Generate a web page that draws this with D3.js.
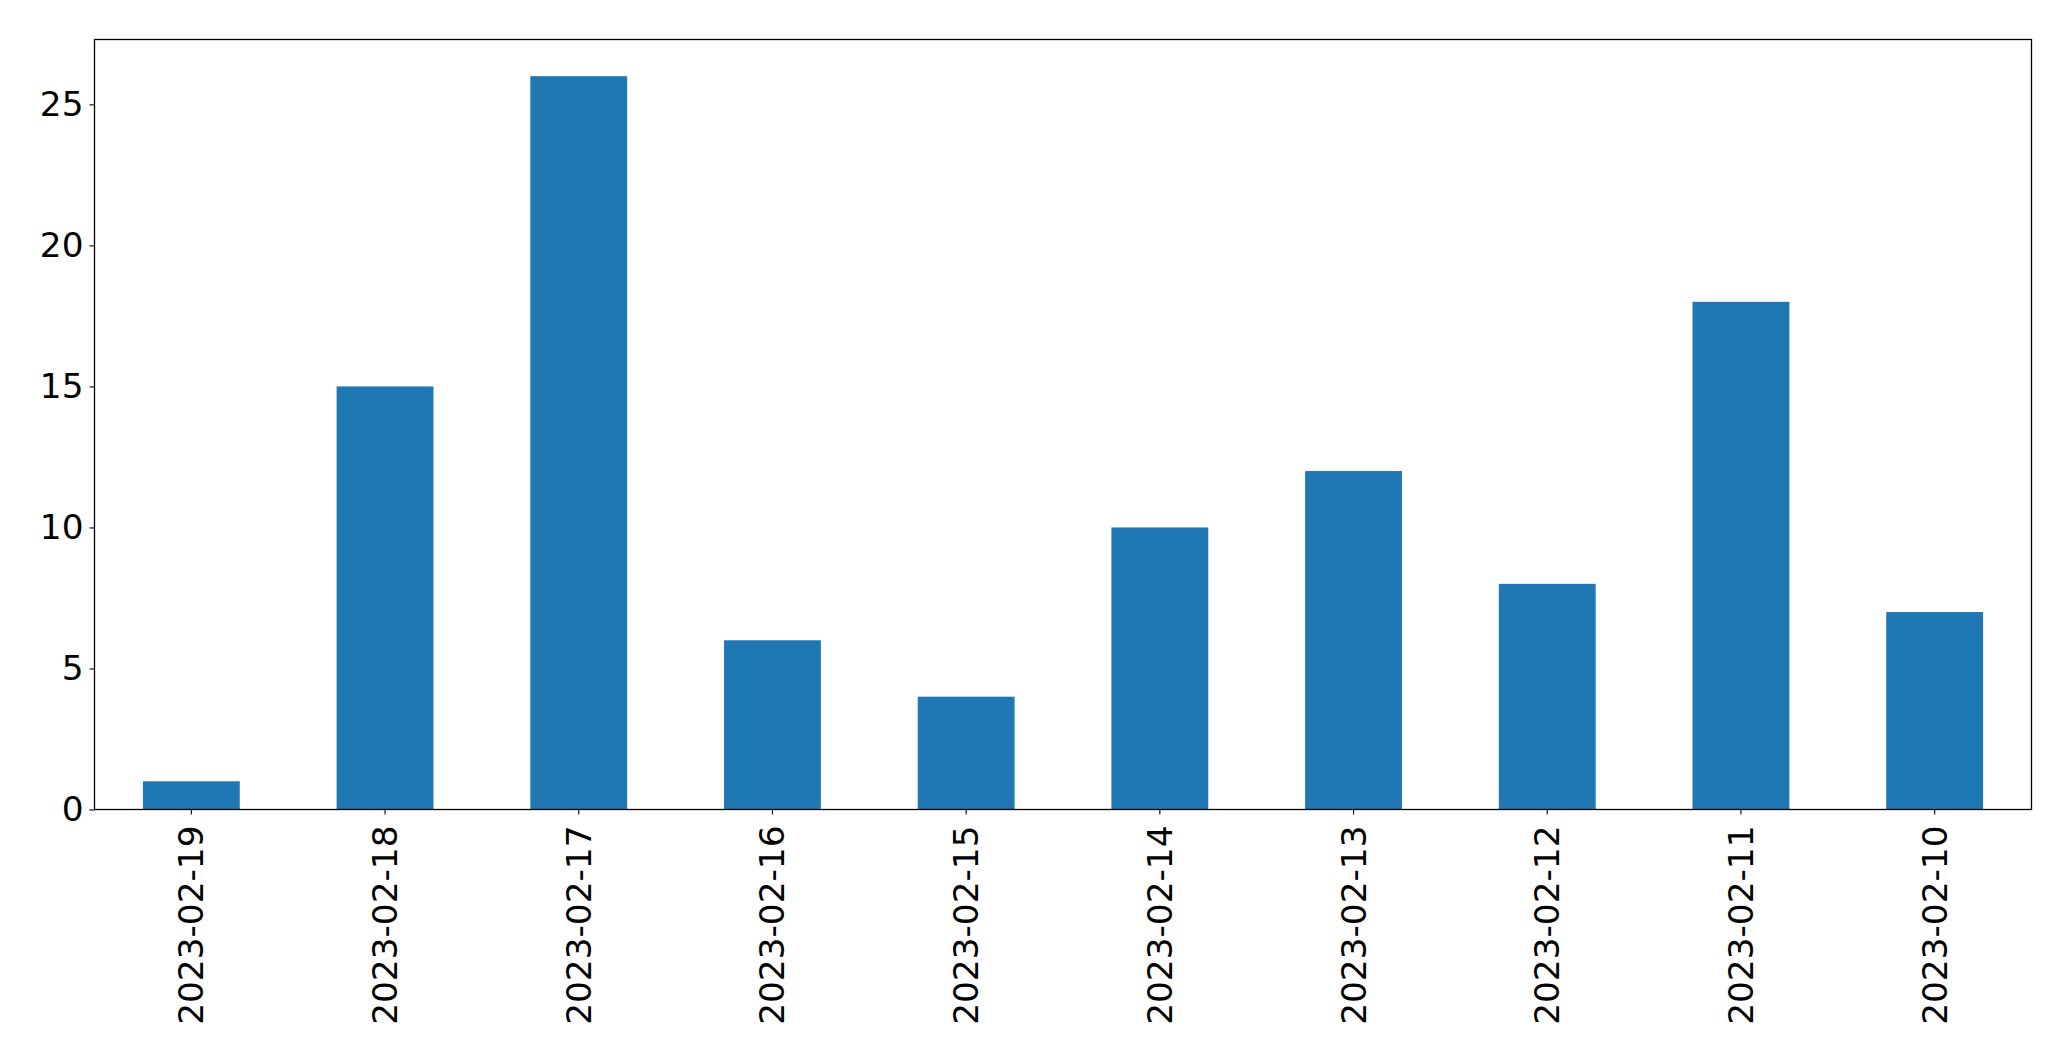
<!DOCTYPE html>
<html>
<head>
<meta charset="utf-8">
<script src="https://cdn.jsdelivr.net/npm/d3@7"></script>
<style>
  html, body { margin: 0; padding: 0; background: #fff; }
  text { font-family: "DejaVu Sans", sans-serif; }
</style>
</head>
<body>
<svg id="chart" width="2071" height="1061"></svg>
<script>
const categories = ["2023-02-19","2023-02-18","2023-02-17","2023-02-16","2023-02-15","2023-02-14","2023-02-13","2023-02-12","2023-02-11","2023-02-10"];
const values = [1, 15, 26, 6, 4, 10, 12, 8, 18, 7];
const yTicks = [0, 5, 10, 15, 20, 25];

const W = 2071, H = 1061;
const m = {left: 94.5, right: W - 2031.5, top: 39.5, bottom: H - 809.5};
const svg = d3.select("#chart");
const innerW = W - m.left - m.right, innerH = H - m.top - m.bottom;

const x = d3.scaleBand().domain(categories).range([m.left, m.left + innerW]).paddingInner(0.5).paddingOuter(0.25);
const y = d3.scaleLinear().domain([0, d3.max(values) * 1.05]).range([m.top + innerH, m.top]);

svg.append("g").selectAll("rect").data(values).join("rect")
  .attr("x", (d, i) => x(categories[i]))
  .attr("width", x.bandwidth())
  .attr("y", d => y(d))
  .attr("height", d => y(0) - y(d))
  .attr("fill", "#1f77b4");

const fs = 34.3;
const yAxis = svg.append("g").attr("transform", `translate(${m.left},0)`)
  .call(d3.axisLeft(y).tickValues(yTicks).tickSize(5).tickPadding(6).tickFormat(d3.format("d")));
yAxis.select(".domain").remove();
yAxis.selectAll("text").attr("font-size", fs).attr("fill", "#000").attr("font-family", "DejaVu Sans");
yAxis.selectAll("line").attr("stroke", "#000").attr("stroke-width", 1.1);

const xAxis = svg.append("g").attr("transform", `translate(0,${m.top + innerH})`)
  .call(d3.axisBottom(x).tickSize(5).tickPadding(0));
xAxis.select(".domain").remove();
xAxis.selectAll("line").attr("stroke", "#000").attr("stroke-width", 1.1);
xAxis.selectAll("text")
  .attr("font-size", fs).attr("fill", "#000").attr("font-family", "DejaVu Sans")
  .attr("transform", "rotate(-90)")
  .attr("text-anchor", "end")
  .attr("x", -16).attr("y", 0).attr("dy", "0.35em");

svg.append("rect")
  .attr("x", m.left).attr("y", m.top).attr("width", innerW).attr("height", innerH)
  .attr("fill", "none").attr("stroke", "#000").attr("stroke-width", 1.3);
</script>
</body>
</html>
